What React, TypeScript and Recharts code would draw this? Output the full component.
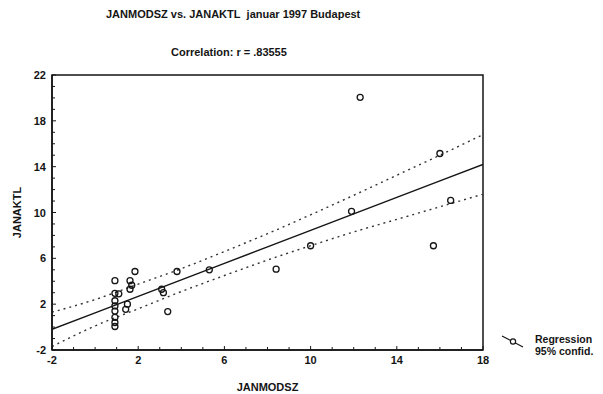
import {
  ComposedChart,
  Line,
  ReferenceArea,
  Scatter,
  XAxis,
  YAxis,
} from "recharts";

// observed pairs: JANMODSZ (x) vs JANAKTL (y)
const modsz = [
  12.3, 16.0, 16.5, 11.9, 10.0, 15.7, 8.4, 5.3, 1.85, 3.8, 0.92, 1.62, 1.7,
  1.62, 0.92, 1.1, 3.09, 3.17, 1.5, 1.42, 3.37, 0.92, 0.92, 0.92, 0.92, 0.92,
  0.92,
];
const aktl = [
  20.05, 15.15, 11.05, 10.1, 7.1, 7.1, 5.05, 5.0, 4.85, 4.85, 4.05, 4.05, 3.65,
  3.3, 2.95, 2.9, 3.3, 3.0, 2.0, 1.55, 1.35, 2.3, 1.85, 1.4, 0.85, 0.4, 0.05,
];

// regression line and 95% band
const fitX = [-2, 0, 2, 4, 6, 8, 10, 12, 14, 16, 18];
const fitY = [-0.2, 1.24, 2.68, 4.12, 5.56, 7.0, 8.44, 9.88, 11.32, 12.76, 14.2];
const upperY = [1.3, 2.4, 3.75, 5.1, 6.6, 8.15, 9.8, 11.5, 13.25, 15.0, 16.8];
const lowerY = [-1.7, 0.1, 1.6, 3.1, 4.5, 5.85, 7.1, 8.3, 9.4, 10.5, 11.6];

const xTicks = Array.from({ length: 21 }, (_, i) => i - 2);
const yTicks = Array.from({ length: 25 }, (_, i) => i - 2);
const xMajor = [-2, 2, 6, 10, 14, 18];
const yMajor = [-2, 2, 6, 10, 14, 18, 22];

const points = modsz.map((x, i) => ({ x, y: aktl[i] }));
const fit = fitX.map((x, i) => ({ x, y: fitY[i] }));
const upper = fitX.map((x, i) => ({ x, y: upperY[i] }));
const lower = fitX.map((x, i) => ({ x, y: lowerY[i] }));

const INK = "#151515";
const FONT = "'Liberation Sans', Arial, sans-serif";

const YTick = (props: any) => {
  const { x, y, payload } = props;
  const major = yMajor.includes(payload.value);
  return (
    <g>
      <line x1={x} y1={y} x2={x + (major ? 4 : 3)} y2={y} stroke={INK} />
      {major && (
        <text x={x - 6} y={y + 4} textAnchor="end" fontSize={11} fontWeight="bold" fill={INK} fontFamily={FONT}>
          {payload.value}
        </text>
      )}
    </g>
  );
};

const XTick = (props: any) => {
  const { x, y, payload } = props;
  const major = xMajor.includes(payload.value);
  return (
    <g>
      <line x1={x} y1={y} x2={x} y2={y - (major ? 4 : 3)} stroke={INK} />
      {major && (
        <text x={x} y={y + 14} textAnchor="middle" fontSize={11} fontWeight="bold" fill={INK} fontFamily={FONT}>
          {payload.value}
        </text>
      )}
    </g>
  );
};

const Dot = (props: any) => (
  <circle cx={props.cx} cy={props.cy} r={3} fill="none" stroke={INK} strokeWidth={1.3} />
);

export default function App() {
  const txt = { position: "absolute" as const, fontFamily: FONT, fontWeight: "bold" as const, fontSize: 11, color: INK, whiteSpace: "nowrap" as const };
  return (
    <div style={{ position: "absolute", left: 0, top: 0, width: 603, height: 394, background: "#fff" }}>
      <div style={{ ...txt, left: 106, top: 8 }}>JANMODSZ vs. JANAKTL&nbsp; januar 1997 Budapest</div>
      <div style={{ ...txt, left: 171, top: 46 }}>Correlation: r = .83555</div>
      <ComposedChart
        width={603}
        height={394}
        margin={{ top: 75, right: 120, left: 8, bottom: 14 }}
      >
        <XAxis
          type="number"
          dataKey="x"
          domain={[-2, 18]}
          ticks={xTicks}
          interval={0}
          allowDataOverflow
          tickSize={0}
          tickMargin={0}
          height={30}
          tick={<XTick />}
          axisLine={{ stroke: INK, strokeWidth: 1.5 }}
          label={{ value: "JANMODSZ", position: "insideBottom", offset: -11, fontSize: 11, fontWeight: "bold", fill: INK, fontFamily: FONT }}
        />
        <YAxis
          type="number"
          dataKey="y"
          domain={[-2, 22]}
          ticks={yTicks}
          interval={0}
          allowDataOverflow
          tickSize={0}
          tickMargin={0}
          width={44}
          tick={<YTick />}
          axisLine={{ stroke: INK, strokeWidth: 1.5 }}
          label={{ value: "JANAKTL", angle: -90, position: "insideLeft", offset: 9, fontSize: 11, fontWeight: "bold", fill: INK, fontFamily: FONT, style: { textAnchor: "middle" } }}
        />
        <ReferenceArea x1={-2} x2={18} y1={-2} y2={22} fill="none" stroke={INK} strokeWidth={1.5} ifOverflow="visible" />
        <Line data={upper} dataKey="y" type="monotone" stroke="#333" strokeWidth={1.4} strokeDasharray="2 4" dot={false} isAnimationActive={false} />
        <Line data={lower} dataKey="y" type="monotone" stroke="#333" strokeWidth={1.4} strokeDasharray="2 4" dot={false} isAnimationActive={false} />
        <Line data={fit} dataKey="y" type="linear" stroke={INK} strokeWidth={1.5} dot={false} isAnimationActive={false} />
        <Scatter data={points} dataKey="y" shape={<Dot />} isAnimationActive={false} />
      </ComposedChart>
      <svg style={{ position: "absolute", left: 498, top: 332 }} width={30} height={20}>
        <line x1={4} y1={4} x2={25} y2={15} stroke={INK} strokeWidth={1.2} />
        <circle cx={15} cy={9.5} r={2.6} fill="#fff" stroke={INK} strokeWidth={1.2} />
      </svg>
      <div style={{ ...txt, left: 535, top: 333, lineHeight: "12px", fontSize: 10.5 }}>
        Regression
        <br />
        95% confid.
      </div>
    </div>
  );
}
